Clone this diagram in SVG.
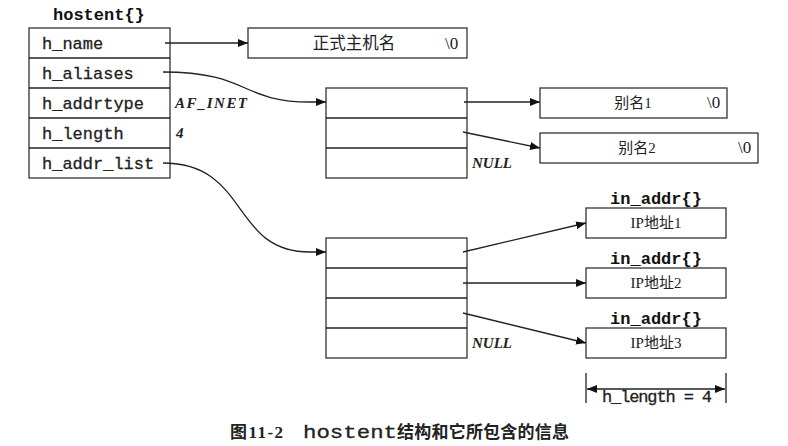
<svg xmlns="http://www.w3.org/2000/svg" width="788" height="446" viewBox="0 0 788 446">
<style>
.box{fill:#fff;stroke:#333;stroke-width:1.3}
.ln{fill:none;stroke:#222;stroke-width:1.3}
.mono{font-family:"Liberation Mono","DejaVu Sans Mono",monospace;font-size:17px;fill:#222;stroke:#222;stroke-width:0.3}
.monob{font-family:"Liberation Mono","DejaVu Sans Mono",monospace;font-size:17px;font-weight:bold;fill:#111}
.ital{font-family:"Liberation Serif",serif;font-style:italic;font-weight:bold;font-size:15px;fill:#222}
.cjk{font-family:"Liberation Serif","Noto Sans CJK SC",serif;font-size:15px;fill:#222}
.bs{font-family:"Liberation Serif",serif;font-size:17px;fill:#222}
</style>
<defs>
<marker id="ah" viewBox="0 0 10 8" refX="10" refY="4" markerWidth="10" markerHeight="8" markerUnits="userSpaceOnUse" orient="auto">
<path d="M0,0 L10,4 L0,8 z" fill="#111"/>
</marker>
<marker id="ahs" viewBox="0 0 10 8" refX="10" refY="4" markerWidth="10" markerHeight="8" markerUnits="userSpaceOnUse" orient="auto-start-reverse">
<path d="M0,0 L10,4 L0,8 z" fill="#111"/>
</marker>
</defs>

<g id="hostent">
<text class="monob" x="53" y="20">hostent{}</text>
<rect class="box" x="29" y="28" width="141" height="150"/>
<line class="ln" x1="29" y1="58" x2="170" y2="58"/>
<line class="ln" x1="29" y1="88" x2="170" y2="88"/>
<line class="ln" x1="29" y1="118" x2="170" y2="118"/>
<line class="ln" x1="29" y1="148" x2="170" y2="148"/>
<text class="mono" x="42" y="49">h_name</text>
<text class="mono" x="42" y="79">h_aliases</text>
<text class="mono" x="42" y="109">h_addrtype</text>
<text class="mono" x="42" y="139">h_length</text>
<text class="mono" x="42" y="169">h_addr_list</text>
<text class="ital" x="175" y="108" textLength="72">AF_INET</text>
<text class="ital" x="176" y="138">4</text>
</g>

<g id="officialname">
<rect class="box" x="248" y="28" width="219" height="30"/>
<text class="cjk" x="354" y="49" text-anchor="middle" style="font-size:16.5px">正式主机名</text>
<text class="bs" x="445" y="49">\0</text>
</g>

<g id="aliasarray">
<rect class="box" x="326" y="88" width="141" height="90"/>
<line class="ln" x1="326" y1="118" x2="467" y2="118"/>
<line class="ln" x1="326" y1="148" x2="467" y2="148"/>
<text class="ital" x="472" y="168" textLength="40">NULL</text>
</g>

<g id="alias1">
<rect class="box" x="540" y="88" width="187" height="30"/>
<text class="cjk" x="633" y="108" text-anchor="middle">别名1</text>
<text class="bs" x="707" y="108">\0</text>
</g>

<g id="alias2">
<rect class="box" x="540" y="133" width="218" height="30"/>
<text class="cjk" x="637" y="153" text-anchor="middle">别名2</text>
<text class="bs" x="738" y="153">\0</text>
</g>

<g id="addrarray">
<rect class="box" x="326" y="238" width="141" height="120"/>
<line class="ln" x1="326" y1="268" x2="467" y2="268"/>
<line class="ln" x1="326" y1="298" x2="467" y2="298"/>
<line class="ln" x1="326" y1="328" x2="467" y2="328"/>
<text class="ital" x="472" y="348" textLength="40">NULL</text>
</g>

<g id="inaddr1">
<text class="monob" x="656" y="204" text-anchor="middle">in_addr{}</text>
<rect class="box" x="586" y="208" width="140" height="30"/>
<text class="cjk" x="656" y="228" text-anchor="middle">IP地址1</text>
</g>
<g id="inaddr2">
<text class="monob" x="656" y="264" text-anchor="middle">in_addr{}</text>
<rect class="box" x="586" y="268" width="140" height="30"/>
<text class="cjk" x="656" y="288" text-anchor="middle">IP地址2</text>
</g>
<g id="inaddr3">
<text class="monob" x="656" y="324" text-anchor="middle">in_addr{}</text>
<rect class="box" x="586" y="328" width="140" height="30"/>
<text class="cjk" x="656" y="348" text-anchor="middle">IP地址3</text>
</g>

<g id="dimension">
<line class="ln" x1="586" y1="373" x2="586" y2="403"/>
<line class="ln" x1="726" y1="373" x2="726" y2="403"/>
<line class="ln" x1="587" y1="389" x2="725" y2="389" marker-start="url(#ahs)" marker-end="url(#ah)"/>
<text class="mono" x="602" y="402" textLength="110" lengthAdjust="spacing">h_length = 4</text>
</g>

<g id="connectors">
<line class="ln" x1="165" y1="43" x2="248" y2="43" marker-end="url(#ah)"/>
<path class="ln" d="M163,72 C250,72 240,102 310,102 L326,102" marker-end="url(#ah)"/>
<path class="ln" d="M163,163 C250,163 230,252 310,252 L326,252" marker-end="url(#ah)"/>
<line class="ln" x1="464" y1="102" x2="540" y2="102" marker-end="url(#ah)"/>
<line class="ln" x1="463" y1="132" x2="540" y2="148" marker-end="url(#ah)"/>
<line class="ln" x1="463" y1="252" x2="586" y2="223" marker-end="url(#ah)"/>
<line class="ln" x1="463" y1="283" x2="586" y2="283" marker-end="url(#ah)"/>
<line class="ln" x1="463" y1="313" x2="586" y2="343" marker-end="url(#ah)"/>
</g>

<g id="caption">
<text x="230" y="438" textLength="53" style="font-family:'Liberation Serif','Noto Sans CJK SC',serif;font-size:17px;font-weight:bold;fill:#222">图11-2</text>
<text x="303" y="438" textLength="94" lengthAdjust="spacingAndGlyphs" style="font-family:'Liberation Mono',monospace;font-size:18px;fill:#222;stroke:#222;stroke-width:0.3">hostent</text>
<text x="397" y="438" textLength="172" style="font-family:'Noto Sans CJK SC',sans-serif;font-size:17px;font-weight:bold;fill:#222">结构和它所包含的信息</text>
</g>
</svg>
